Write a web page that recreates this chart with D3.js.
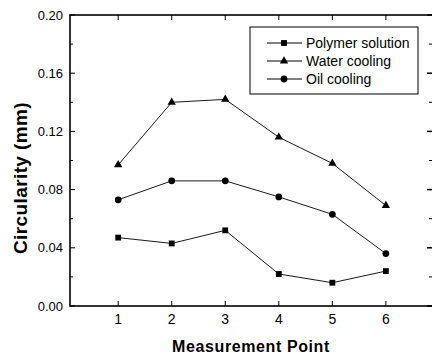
<html>
<head>
<style>
  body { margin: 0; background: #fff; }
  text { font-family: "Liberation Sans", Arial, sans-serif; }
</style>
</head>
<body>
<svg id="chart" width="432" height="355"></svg>
<script src="https://d3js.org/d3.v7.min.js"></script>
<script>
// data
let points = [1, 2, 3, 4, 5, 6]
let polymer = [0.047, 0.043, 0.052, 0.022, 0.016, 0.024]
let water = [0.097, 0.140, 0.142, 0.116, 0.098, 0.069]
let oil = [0.073, 0.086, 0.086, 0.075, 0.063, 0.036]
let yTicks = [0.00, 0.04, 0.08, 0.12, 0.16, 0.20]
let seriesNames = ["Polymer solution", "Water cooling", "Oil cooling"]

let svg = d3.select("#chart")
// right spine sits just past the window edge, like the scan
let plotLeft = 70, plotRight = 433, plotTop = 15, plotBottom = 306

let x = d3.scaleLinear().domain([0.1, 6.88]).range([plotLeft, plotRight])
let y = d3.scaleLinear().domain([0, 0.2]).range([plotBottom, plotTop])

// frame
svg.append("rect")
   .attr("x", plotLeft).attr("y", plotTop)
   .attr("width", plotRight - plotLeft).attr("height", plotBottom - plotTop)
   .attr("fill", "none").attr("stroke", "#000").attr("stroke-width", 1.6)

// y ticks (inward), left and right
let yMinor = d3.range(0.02, 0.2, 0.04)
let g = svg.append("g")
yTicks.forEach(v => {
  g.append("line").attr("x1", plotLeft).attr("x2", plotLeft + 5).attr("y1", y(v)).attr("y2", y(v)).attr("stroke", "#000")
  g.append("line").attr("x1", plotRight).attr("x2", plotRight - 6).attr("y1", y(v)).attr("y2", y(v)).attr("stroke", "#000").attr("stroke-width", 1.5)
  g.append("text").attr("x", 63).attr("y", y(v) + 4.5)
   .attr("text-anchor", "end").attr("font-size", 13).text(v.toFixed(2))
})
yMinor.forEach(v => {
  g.append("line").attr("x1", plotLeft).attr("x2", plotLeft + 3).attr("y1", y(v)).attr("y2", y(v)).attr("stroke", "#000")
  g.append("line").attr("x1", plotRight).attr("x2", plotRight - 4).attr("y1", y(v)).attr("y2", y(v)).attr("stroke", "#000")
})

// x ticks (inward), bottom and top
points.forEach(v => {
  g.append("line").attr("x1", x(v)).attr("x2", x(v)).attr("y1", plotBottom).attr("y2", plotBottom - 5).attr("stroke", "#000")
  g.append("line").attr("x1", x(v)).attr("x2", x(v)).attr("y1", plotTop).attr("y2", plotTop + 5).attr("stroke", "#000")
  g.append("text").attr("x", x(v)).attr("y", plotBottom + 18)
   .attr("text-anchor", "middle").attr("font-size", 14).text(v)
})

// axis titles
svg.append("text").attr("x", 251).attr("y", 352)
   .attr("text-anchor", "middle").attr("font-size", 16).attr("font-weight", "bold")
   .attr("letter-spacing", 0.6)
   .text("Measurement  Point")
svg.append("text").attr("transform", "translate(27,178) rotate(-90)")
   .attr("text-anchor", "middle").attr("font-size", 19).attr("font-weight", "bold")
   .attr("letter-spacing", 0.4)
   .text("Circularity  (mm)")

let line = d3.line().x((d, i) => x(points[i])).y(d => y(d))
let symbols = [d3.symbolSquare, d3.symbolTriangle, d3.symbolCircle]
let sizes = [34, 30, 36]
let allSeries = [polymer, water, oil]

allSeries.forEach((s, k) => {
  svg.append("path").attr("d", line(s)).attr("fill", "none").attr("stroke", "#000").attr("stroke-width", 0.9)
  svg.selectAll(null).data(s).enter().append("path")
     .attr("d", d3.symbol().type(symbols[k]).size(sizes[k]))
     .attr("transform", (d, i) => `translate(${x(points[i])},${y(d)})`)
     .attr("fill", "#000")
})

// legend
let lg = svg.append("g")
lg.append("rect").attr("x", 250).attr("y", 27).attr("width", 168).attr("height", 67)
  .attr("fill", "#fff").attr("stroke", "#000").attr("stroke-width", 1)
seriesNames.forEach((name, k) => {
  let ly = 43 + k * 18
  lg.append("line").attr("x1", 267).attr("x2", 302).attr("y1", ly).attr("y2", ly).attr("stroke", "#000")
  lg.append("path").attr("d", d3.symbol().type(symbols[k]).size(sizes[k]))
    .attr("transform", `translate(284,${ly})`).attr("fill", "#000")
  lg.append("text").attr("x", 306).attr("y", ly + 4.5).attr("font-size", 14).text(name)
})
</script>
</body>
</html>
